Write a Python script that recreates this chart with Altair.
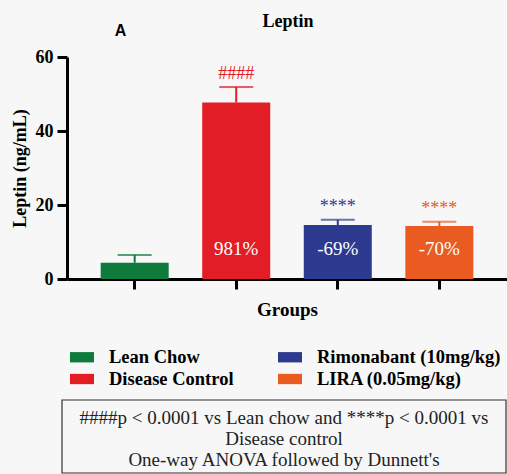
import altair as alt
import pandas as pd

# Leptin by treatment group (mean and upper error)
groups = ["Lean Chow", "Disease Control", "Rimonabant (10mg/kg)", "LIRA (0.05mg/kg)"]
means = [4.4, 47.7, 14.6, 14.3]
uppers = [6.5, 51.9, 16.0, 15.5]
sig_marks = ["", "####", "****", "****"]
pct_labels = ["", "981%", "-69%", "-70%"]
colors = ["#0e7a3b", "#e31d25", "#2c3a8f", "#ea5b22"]

footnote = [
    "####p < 0.0001 vs Lean chow and ****p < 0.0001 vs",
    "Disease control",
    "One-way ANOVA followed by Dunnett's",
]

df = pd.DataFrame({
    "group": groups,
    "mean": means,
    "upper": uppers,
    "sig": sig_marks,
    "pct": pct_labels,
})

SERIF = "Liberation Serif"
color_scale = alt.Scale(domain=groups, range=colors)

x_enc = alt.X(
    "group:N",
    sort=groups,
    scale=alt.Scale(paddingInner=0.333, paddingOuter=0.333),
    axis=alt.Axis(
        labels=False, title="Groups", titleFont=SERIF, titleFontSize=19,
        titleFontWeight="bold", titleColor="black", titlePadding=10,
        tickSize=10, tickWidth=3, tickColor="black",
        domainWidth=3, domainColor="black",
    ),
)
y_scale = alt.Scale(domain=[0, 60], nice=False)
color_enc = alt.Color(
    "group:N",
    scale=color_scale,
    legend=alt.Legend(
        title=None, orient="none", legendX=3, legendY=288, columns=2,
        symbolType="M-1,-0.43L1,-0.43L1,0.43L-1,0.43Z", symbolSize=576,
        symbolStrokeWidth=0, symbolOpacity=1,
        labelFont=SERIF, labelFontSize=18.5, labelFontWeight="bold",
        labelColor="black", labelOffset=15, columnPadding=44, rowPadding=-1,
        padding=0, labelLimit=300,
    ),
)
plain_color = alt.Color("group:N", scale=color_scale, legend=None)

base = alt.Chart(df).encode(x=x_enc)

bars = base.mark_bar(size=68).encode(
    y=alt.Y(
        "mean:Q", scale=y_scale,
        axis=alt.Axis(
            values=[0, 20, 40, 60], title="Leptin (ng/mL)", grid=False,
            labelFont=SERIF, labelFontSize=18, labelFontWeight="bold",
            labelColor="black", labelPadding=4,
            titleFont=SERIF, titleFontSize=18, titleFontWeight="bold",
            titleColor="black", titlePadding=6,
            tickSize=10, tickWidth=3, tickColor="black",
            domainWidth=3, domainColor="black",
        ),
    ),
    color=color_enc,
)

err_line = base.mark_rule(strokeWidth=2).encode(
    y=alt.Y("mean:Q", scale=y_scale),
    y2="upper:Q",
    color=plain_color,
)

err_cap = base.mark_tick(size=34, thickness=2, orient="horizontal").encode(
    y=alt.Y("upper:Q", scale=y_scale),
    color=plain_color,
)

sig_text = base.mark_text(font=SERIF, fontSize=18, dy=-8, baseline="alphabetic").encode(
    y=alt.Y("upper:Q", scale=y_scale),
    text="sig:N",
    color=plain_color,
)

pct_text = base.mark_text(
    font=SERIF, fontSize=19, color="white", baseline="alphabetic", dy=-24
).encode(
    y=alt.value(222),
    text="pct:N",
)

one = pd.DataFrame({"k": [0]})

title_text = alt.Chart(one).mark_text(
    text="Leptin", font=SERIF, fontSize=18, fontWeight="bold",
    color="black", baseline="alphabetic", align="center",
).encode(x=alt.value(221), y=alt.value(-30))

panel_text = alt.Chart(one).mark_text(
    text="A", font="Liberation Sans", fontSize=16, fontWeight="bold",
    color="black", baseline="alphabetic", align="center",
).encode(x=alt.value(53.5), y=alt.value(-21))

note_box = alt.Chart(one).mark_rect(
    fill="#f7f7f7", stroke="#333333", strokeWidth=1.2
).encode(
    x=alt.value(-5), x2=alt.value(439), y=alt.value(343), y2=alt.value(416)
)

note_text = alt.Chart(one).mark_text(
    text=footnote, font=SERIF, fontSize=19, color="#222222",
    lineHeight=21, baseline="top", align="center",
).encode(x=alt.value(217), y=alt.value(352))

chart = alt.layer(
    bars, err_line, err_cap, sig_text, pct_text,
    title_text, panel_text, note_box, note_text,
).properties(
    width=440,
    height=222,
    padding={"left": 67, "top": 57, "right": 0, "bottom": 195},
    autosize=alt.AutoSizeParams(type="none"),
).configure(
    background="#f7f7f7",
).configure_view(
    strokeWidth=0,
)

chart.save("out.html", embed_options={"renderer": "svg", "actions": False})
